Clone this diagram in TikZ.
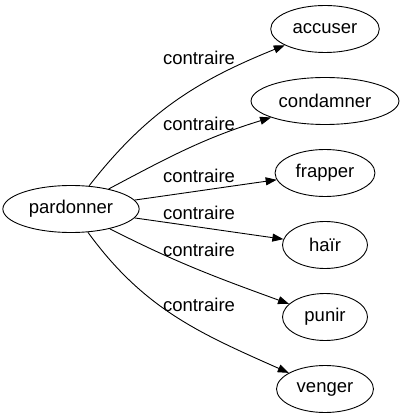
\documentclass[tikz,border=0pt]{standalone}
\usepackage{fontspec}
\setmainfont{Liberation Sans}
\usetikzlibrary{shapes.geometric,arrows.meta}
\tikzset{
  word/.style={
    ellipse,
    draw,
    line width=0.9pt,
    inner xsep=6pt,
    inner ysep=1pt,
    minimum width=85pt,
    minimum height=47pt,
    font=\fontsize{18.5}{22}\selectfont,
  },
  relation/.style={
    font=\fontsize{18.5}{22}\selectfont,
    inner sep=0pt,
  },
  opposite/.style={
    line width=0.9pt,
    -{Triangle[length=11pt,width=8pt]},
  }
}

\begin{document}
\begin{tikzpicture}[x=1pt,y=-1pt]
\useasboundingbox (0,0) rectangle (403,419);

\node[word] (pardonner) at (71,209) {pardonner};
\node[word] (accuser) at (325,29) {accuser};
\node[word] (condamner) at (325,101) {condamner};
\node[word] (frapper) at (325,173) {frapper};
\node[word] (hair) at (325,245) {haïr};
\node[word] (punir) at (325,317) {punir};
\node[word] (venger) at (325,389) {venger};

% edge labels
\node[relation] (r-accuser) at (199,58) {contraire};
\node[relation] (r-condamner) at (199,124) {contraire};
\node[relation] (r-frapper) at (199,176) {contraire};
\node[relation] (r-hair) at (199,213) {contraire};
\node[relation] (r-punir) at (199,250) {contraire};
\node[relation] (r-venger) at (199,305) {contraire};

\draw[opposite] (pardonner) to [out=52, in=202] (accuser);
\draw[opposite] (pardonner) to [out=28, in=197] (condamner);
\draw[opposite] (pardonner) to [out=8, in=188] (frapper);
\draw[opposite] (pardonner) to [out=-8, in=172] (hair);
\draw[opposite] (pardonner) to [out=-27, in=160] (punir);
\draw[opposite] (pardonner) to [out=-54, in=156] (venger);

\end{tikzpicture}
\end{document}
